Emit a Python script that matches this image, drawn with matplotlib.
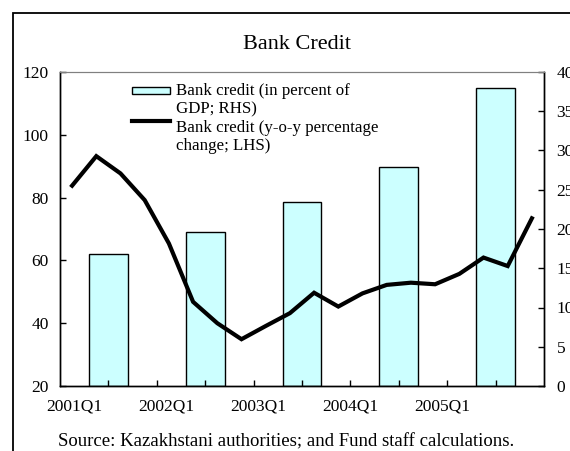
import numpy as np
import matplotlib
matplotlib.use("Agg")
import matplotlib.pyplot as plt
from matplotlib.patches import Rectangle
from matplotlib.lines import Line2D

# Quarterly y-o-y growth of bank credit (LHS), 2001Q1 .. 2005Q4
quarters = [f"{y}Q{q}" for y in range(2001, 2006) for q in range(1, 5)]
growth_yoy = [83.8, 93.2, 87.7, 79.2, 65.4, 46.8, 40.0, 34.9, 39.1, 43.2,
              49.7, 45.3, 49.5, 52.2, 52.9, 52.4, 55.7, 60.9, 58.2, 73.4]

# Annual bank credit in percent of GDP (RHS), one bar per year
years = ["2001", "2002", "2003", "2004", "2005"]
credit_gdp = [16.8, 19.6, 23.4, 27.9, 38.0]

year_labels = ["2001Q1", "2002Q1", "2003Q1", "2004Q1", "2005Q1"]
left_ticks = [20, 40, 60, 80, 100, 120]
right_ticks = [0, 5, 10, 15, 20, 25, 30, 35, 40]

plt.rcParams["font.family"] = ["Liberation Serif", "DejaVu Serif"]

fig = plt.figure(figsize=(5.7, 4.51), dpi=100)
ax = fig.add_axes([60 / 570, 1 - 386 / 451, 484 / 570, 314 / 451])
ax2 = ax.twinx()

x = np.arange(len(quarters))
# bars sit in the middle of each year's four quarters
bar_x = np.arange(len(years)) * 4 + 1.5

ax.set_zorder(ax2.get_zorder() + 1)
ax.patch.set_visible(False)

ax2.bar(bar_x, credit_gdp, width=1.6, color="#CCFFFF", edgecolor="black",
        linewidth=1.0)
ax.plot(x, growth_yoy, color="black", linewidth=3.0, solid_joinstyle="miter")

ax.set_xlim(-0.5, len(quarters) - 0.5)
ax.set_ylim(20, 120)
ax2.set_ylim(0, 40)

ax.set_yticks(left_ticks)
ax2.set_yticks(right_ticks)
ax.set_xticks(np.arange(1.5, len(quarters) - 1, 2), minor=True)
ax.set_xticks(0.08 + 3.8 * np.arange(len(year_labels)))
ax.set_xticklabels(year_labels)

ax.tick_params(axis="x", which="major", length=0, pad=9, labelsize=12.5)
ax.tick_params(axis="x", which="minor", direction="in", length=4, width=1)
ax.tick_params(axis="y", direction="in", length=4, width=1, pad=8,
               labelsize=12.5)
ax2.tick_params(axis="y", direction="in", length=4, width=1, pad=9,
                labelsize=12.5)

for a in (ax, ax2):
    a.spines["top"].set_color("#808080")
    a.spines["top"].set_linewidth(0.8)
    for s in ("left", "right", "bottom"):
        a.spines[s].set_color("black")
        a.spines[s].set_linewidth(1.0)

# legend drawn inside the plot area
ax.add_patch(Rectangle((0.149, 0.930), 0.078, 0.022, transform=ax.transAxes,
                       facecolor="#CCFFFF", edgecolor="black", linewidth=1.0,
                       zorder=5))
ax.add_line(Line2D([0.149, 0.227], [0.845, 0.845], transform=ax.transAxes,
                   color="black", linewidth=3.0, zorder=5))
legend_lines = [("Bank credit (in percent of", 0.927),
                ("GDP; RHS)", 0.868),
                ("Bank credit (y-o-y percentage", 0.810),
                ("change; LHS)", 0.752)]
for txt, yy in legend_lines:
    ax.text(0.240, yy, txt, transform=ax.transAxes, fontsize=12.2,
            va="baseline", ha="left")

fig.text(297 / 570, 1 - 49 / 451, "Bank Credit", fontsize=16,
         ha="center", va="baseline")
fig.text(58 / 570, 1 - 442 / 451,
         "Source: Kazakhstani authorities; and Fund staff calculations.",
         fontsize=13.5, ha="left", va="center")

# outer frame around the chart
fig.add_artist(Rectangle((13 / 570, -0.2), 1.5, 0.2 + (1 - 13 / 451),
                         transform=fig.transFigure, fill=False,
                         edgecolor="black", linewidth=1.3))

fig.savefig("out.png", dpi=100)
